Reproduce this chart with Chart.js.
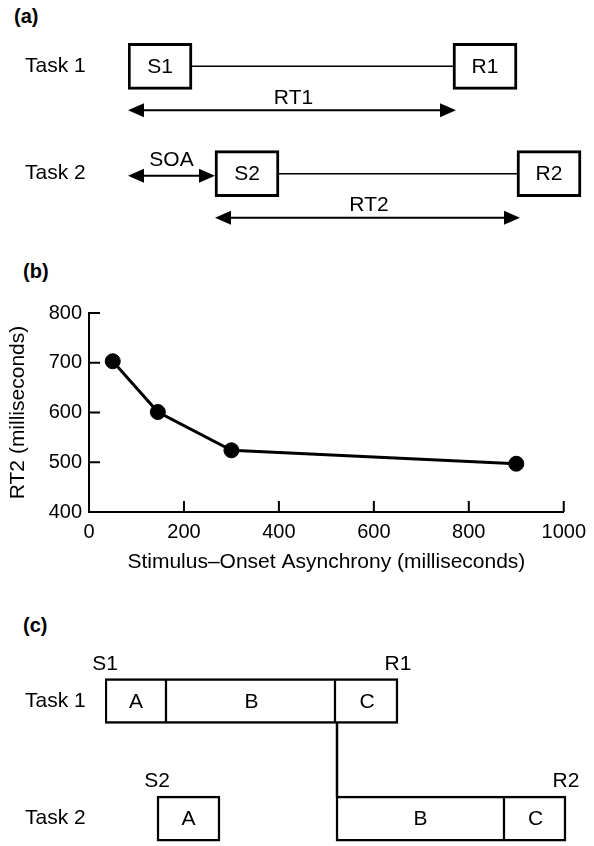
<!DOCTYPE html>
<html>
<head>
<meta charset="utf-8">
<script src="https://cdn.jsdelivr.net/npm/chart.js@4.4.1/dist/chart.umd.min.js"></script>
<style>
  html, body { margin: 0; padding: 0; background: #fff; overflow: hidden; width: 594px; height: 846px; }
  canvas.panel { position: absolute; left: 0; }
  .tag { position: absolute; font: bold 20px "Liberation Sans", Arial, Helvetica, sans-serif; line-height: 20px; color: #000; }
</style>
</head>
<body>
<div class="tag" style="left:14px; top:6px;">(a)</div>
<canvas id="timeline" class="panel" style="top:0" width="594" height="240"></canvas>
<div class="tag" style="left:23px; top:261px;">(b)</div>
<canvas id="prp" class="panel" style="top:240px" width="594" height="346"></canvas>
<div class="tag" style="left:23px; top:615px;">(c)</div>
<canvas id="stages" class="panel" style="top:600px" width="594" height="290"></canvas>
<script>
// ---- Task timelines (a) ----
const tasks = ['Task 1', 'Task 2'];
const stimulusNames = ['S1', 'S2'];
const responseNames = ['R1', 'R2'];
const rtNames = ['RT1', 'RT2'];
const stimulusOnsets = [0, 87];
const responseOnsets = [325, 389];

// ---- Second-task reaction time by SOA (b) ----
const soaValues = [50, 145, 300, 900];
const rt2Values = [703, 601, 524, 497];
const soaTicks = [0, 200, 400, 600, 800, 1000];
const rtTicks = [400, 500, 600, 700, 800];

// ---- Processing stages per task (c) ----
const stageNames = ['A', 'B', 'C'];
const task1Stages = [[0, 62], [62, 231], [231, 293]];
const task2Stages = [[52, 115], [231, 400], [400, 461]];

const FONT = '"Liberation Sans", Arial, Helvetica, sans-serif';
Chart.defaults.font.family = FONT;
Chart.defaults.color = '#000';
Chart.defaults.animation = false;
Chart.defaults.events = [];
Chart.defaults.plugins.legend.display = false;
Chart.defaults.plugins.tooltip.enabled = false;
Chart.defaults.plugins.colors = { enabled: false };

const INK = '#000';
const PAPER = '#fff';
const BOX = 64; // width of the S/R boxes in time units

function arrowHead(ctx, tipX, y, dir) {
  ctx.beginPath();
  ctx.moveTo(tipX, y);
  ctx.lineTo(tipX + dir * 16, y - 7);
  ctx.lineTo(tipX + dir * 16, y + 7);
  ctx.closePath();
  ctx.fill();
}
function doubleArrow(ctx, x1, x2, y) {
  ctx.lineWidth = 2;
  ctx.beginPath();
  ctx.moveTo(x1 + 10, y);
  ctx.lineTo(x2 - 10, y);
  ctx.stroke();
  arrowHead(ctx, x1, y, 1);
  arrowHead(ctx, x2, y, -1);
}

// ---------- (a) ----------
const timelineMarks = {
  id: 'timelineMarks',
  afterDatasetsDraw(chart) {
    const { ctx, scales: { x, y } } = chart;
    ctx.save();
    ctx.strokeStyle = INK;
    ctx.fillStyle = INK;
    ctx.font = '21px ' + FONT;
    ctx.textAlign = 'center';
    ctx.textBaseline = 'middle';
    tasks.forEach((t, i) => {
      const cy = y.getPixelForValue(i);
      const sx = x.getPixelForValue(stimulusOnsets[i]);
      const rx = x.getPixelForValue(responseOnsets[i]);
      ctx.fillText(stimulusNames[i], x.getPixelForValue(stimulusOnsets[i] + BOX / 2), cy + 1);
      ctx.fillText(responseNames[i], x.getPixelForValue(responseOnsets[i] + BOX / 2), cy + 1);
      // connector between stimulus and response
      ctx.lineWidth = 1.5;
      ctx.beginPath();
      ctx.moveTo(x.getPixelForValue(stimulusOnsets[i] + BOX), cy);
      ctx.lineTo(rx, cy);
      ctx.stroke();
      // reaction time span
      const ay = cy + 44;
      doubleArrow(ctx, sx, rx + 3, ay);
      ctx.fillText(rtNames[i], (sx + rx) / 2 + 3, ay - 12);
    });
    // stimulus onset asynchrony
    const y2 = y.getPixelForValue(1) + 2;
    const a1 = x.getPixelForValue(stimulusOnsets[0]);
    const a2 = x.getPixelForValue(stimulusOnsets[1]);
    doubleArrow(ctx, a1, a2, y2);
    ctx.fillText('SOA', (a1 + a2) / 2, y2 - 15);
    ctx.restore();
  }
};

const boxStyle = {
  grouped: false,
  barThickness: 46,
  backgroundColor: PAPER,
  borderColor: INK,
  borderWidth: 3,
  borderSkipped: false
};

new Chart(document.getElementById('timeline'), {
  type: 'bar',
  data: {
    labels: tasks,
    datasets: [
      Object.assign({ label: 'Stimulus', data: stimulusOnsets.map(t => [t, t + BOX]) }, boxStyle),
      Object.assign({ label: 'Response', data: responseOnsets.map(t => [t, t + BOX]) }, boxStyle)
    ]
  },
  options: {
    responsive: false,
    indexAxis: 'y',
    layout: { padding: { left: 25, top: 5.5, bottom: 4.5, right: 0 } },
    scales: {
      x: { type: 'linear', min: 0, max: 466, display: false },
      y: {
        type: 'category',
        offset: true,
        grid: { display: false, drawTicks: false },
        border: { display: false },
        ticks: { crossAlign: 'far', padding: 0, font: { size: 21 }, color: INK },
        afterFit: s => { s.width = 103; }
      }
    }
  },
  plugins: [timelineMarks]
});

// ---------- (b) ----------
const inwardTicks = {
  id: 'inwardTicks',
  afterDraw(chart) {
    const { ctx, chartArea: a, scales: { x, y } } = chart;
    ctx.save();
    ctx.strokeStyle = INK;
    ctx.lineWidth = 2;
    ctx.beginPath();
    x.ticks.forEach(t => {
      if (t.value === x.min) return;
      const px = x.getPixelForValue(t.value);
      ctx.moveTo(px, a.bottom);
      ctx.lineTo(px, a.bottom - 11);
    });
    y.ticks.forEach(t => {
      if (t.value === y.min) return;
      const py = y.getPixelForValue(t.value);
      ctx.moveTo(a.left, py);
      ctx.lineTo(a.left + 11, py);
    });
    ctx.stroke();
    ctx.restore();
  }
};

new Chart(document.getElementById('prp'), {
  type: 'scatter',
  data: {
    datasets: [{
      label: 'RT2',
      data: soaValues.map((s, i) => ({ x: s, y: rt2Values[i] })),
      showLine: true,
      borderColor: INK,
      backgroundColor: INK,
      borderWidth: 3,
      pointRadius: 7.5,
      pointBackgroundColor: INK,
      pointBorderColor: INK,
      pointBorderWidth: 1,
      tension: 0
    }]
  },
  options: {
    responsive: false,
    layout: { padding: { left: 0, top: 73, bottom: 0, right: 21 } },
    scales: {
      x: {
        type: 'linear',
        min: soaTicks[0],
        max: soaTicks[soaTicks.length - 1],
        afterBuildTicks: s => { s.ticks = soaTicks.map(v => ({ value: v })); },
        grid: { display: false, drawTicks: false },
        border: { display: true, color: INK, width: 2 },
        ticks: { padding: 8, font: { size: 20 }, color: INK, maxRotation: 0, callback: v => String(v) },
        title: {
          display: true,
          text: 'Stimulus\u2013Onset Asynchrony (milliseconds)',
          font: { size: 21 },
          color: INK,
          padding: { top: 0, bottom: 11.4 }
        },
        afterFit: s => { s.height = 74; }
      },
      y: {
        type: 'linear',
        min: rtTicks[0],
        max: rtTicks[rtTicks.length - 1],
        afterBuildTicks: s => { s.ticks = rtTicks.map(v => ({ value: v })); },
        grid: { display: false, drawTicks: false },
        border: { display: true, color: INK, width: 2 },
        ticks: { padding: 7, font: { size: 20 }, color: INK, callback: v => String(v) },
        title: {
          display: true,
          text: 'RT2 (milliseconds)',
          font: { size: 21 },
          color: INK,
          padding: { top: 6, bottom: 0 }
        },
        afterFit: s => { s.width = 89; }
      }
    }
  },
  plugins: [inwardTicks]
});

// ---------- (c) ----------
const taskStages = [task1Stages, task2Stages];

const stageMarks = {
  id: 'stageMarks',
  afterDatasetsDraw(chart) {
    const { ctx, scales: { x, y } } = chart;
    ctx.save();
    ctx.fillStyle = INK;
    ctx.strokeStyle = INK;
    ctx.font = '21px ' + FONT;
    ctx.textAlign = 'center';
    ctx.textBaseline = 'middle';
    taskStages.forEach((stages, r) => {
      const cy = y.getPixelForValue(r);
      stages.forEach((st, s) => {
        ctx.fillText(stageNames[s], x.getPixelForValue((st[0] + st[1]) / 2), cy + 1);
      });
      const top = cy - 23;
      ctx.fillText(stimulusNames[r], x.getPixelForValue(stages[0][0]), top - 14);
      ctx.fillText(responseNames[r], x.getPixelForValue(stages[stages.length - 1][1]), top - 14);
    });
    // Task 2 stage B waits for Task 1 stage B to finish
    const bx = x.getPixelForValue(task2Stages[1][0]) + 1;
    ctx.lineWidth = 2.5;
    ctx.beginPath();
    ctx.moveTo(bx, y.getPixelForValue(0) + 22);
    ctx.lineTo(bx, y.getPixelForValue(1) - 22);
    ctx.stroke();
    ctx.restore();
  }
};

new Chart(document.getElementById('stages'), {
  type: 'bar',
  data: {
    labels: tasks,
    datasets: stageNames.map((name, s) => ({
      label: name,
      data: taskStages.map(stages => stages[s]),
      grouped: false,
      barThickness: 45,
      backgroundColor: PAPER,
      borderColor: INK,
      borderWidth: 2.5,
      borderSkipped: ctx => {
        const r = ctx.dataIndex;
        const st = taskStages[r];
        return s > 0 && st[s - 1][1] === st[s][0] ? 'left' : false;
      }
    }))
  },
  options: {
    responsive: false,
    indexAxis: 'y',
    layout: { padding: { left: 25, top: 42.25, bottom: 8.75, right: 0 } },
    scales: {
      x: { type: 'linear', min: 0, max: 489, display: false },
      y: {
        type: 'category',
        offset: true,
        grid: { display: false, drawTicks: false },
        border: { display: false },
        ticks: { crossAlign: 'far', padding: 0, font: { size: 21 }, color: INK },
        afterFit: s => { s.width = 80; }
      }
    }
  },
  plugins: [stageMarks]
});
</script>
</body>
</html>
